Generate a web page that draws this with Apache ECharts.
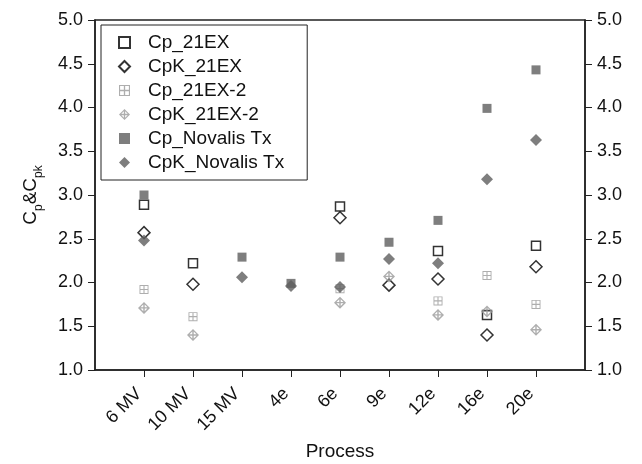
<!DOCTYPE html>
<html>
<head>
<meta charset="utf-8">
<script src="https://cdn.jsdelivr.net/npm/echarts@6/dist/echarts.min.js"></script>
<style>
  html, body { margin: 0; padding: 0; background: #fff; }
  #chart { width: 642px; height: 464px; }
</style>
</head>
<body>
<div id="chart"></div>
<script>
// process categories on the x axis
const processes = ['6 MV', '10 MV', '15 MV', '4e', '6e', '9e', '12e', '16e', '20e'];
const yTicks = [1.0, 1.5, 2.0, 2.5, 3.0, 3.5, 4.0, 4.5, 5.0];

// values (null = no point)
const cp21EX    = [2.89, 2.22, null, null, 2.87, null, 2.36, 1.63, 2.42];
const cpk21EX   = [2.57, 1.98, null, null, 2.74, 1.97, 2.04, 1.40, 2.18];
const cp21EX2   = [1.92, 1.61, null, null, 1.93, null, 1.79, 2.08, 1.75];
const cpk21EX2  = [1.71, 1.40, null, null, 1.77, 2.07, 1.63, 1.67, 1.46];
const cpNovalis  = [3.00, null, 2.29, 1.99, 2.29, 2.46, 2.71, 3.99, 4.43];
const cpkNovalis = [2.48, null, 2.06, 1.96, 1.95, 2.27, 2.22, 3.18, 3.63];

// square / diamond outlines with a cross inside (holes drawn with opposite winding)
const crossSquare = 'path://M0 0H10V10H0Z' +
  'M1 1V4.4H4.4V1Z M5.6 1V4.4H9V1Z M1 5.6V9H4.4V5.6Z M5.6 5.6V9H9V5.6Z';
const crossDiamond = 'path://M5 0L10 5L5 10L0 5Z' +
  'M5.6 2.1L5.6 4.4L7.9 4.4Z M4.4 2.1L2.1 4.4L4.4 4.4Z' +
  'M5.6 7.9L7.9 5.6L5.6 5.6Z M4.4 7.9L4.4 5.6L2.1 5.6Z';

const font = 'Liberation Sans, Arial, sans-serif';
const toPoints = arr => arr.map((v, i) => [i + 1, v]).filter(p => p[1] != null);

const chart = echarts.init(document.getElementById('chart'));

function makeSeries(name, arr, symbol, size, itemStyle) {
  return {
    name: name,
    type: 'scatter',
    data: toPoints(arr),
    symbol: symbol,
    symbolSize: size,
    symbolKeepAspect: true,
    itemStyle: itemStyle,
    emphasis: { disabled: true }
  };
}

const yAxisBase = {
  type: 'value',
  min: 1,
  max: 5,
  interval: 0.5,
  splitLine: { show: false },
  axisLine: { show: true, lineStyle: { color: '#222', width: 1.5 } },
  axisTick: { show: true, inside: false, length: 7, lineStyle: { color: '#222' } },
  axisLabel: {
    color: '#111', fontSize: 18, fontFamily: font, margin: 12,
    formatter: v => yTicks.includes(v) ? v.toFixed(1) : ''
  }
};

chart.setOption({
  backgroundColor: '#fff',
  animation: false,
  grid: {
    left: 95, right: 57, top: 20, bottom: 94,
    outerBoundsMode: 'none',
    show: true, borderColor: '#222', borderWidth: 1.5
  },
  legend: {
    orient: 'vertical',
    left: 101,
    top: 25,
    padding: [8, 23, 8, 17],
    itemWidth: 11,
    itemHeight: 11,
    itemGap: 5,
    borderColor: '#222',
    borderWidth: 1,
    textStyle: { color: '#111', fontSize: 19, fontFamily: font, padding: [0, 0, 0, 13] },
    data: ['Cp_21EX', 'CpK_21EX', 'Cp_21EX-2', 'CpK_21EX-2', 'Cp_Novalis Tx', 'CpK_Novalis Tx']
  },
  xAxis: {
    type: 'value',
    min: 0,
    max: 10,
    interval: 1,
    name: 'Process',
    nameLocation: 'middle',
    nameGap: 72,
    nameTextStyle: { color: '#111', fontSize: 19, fontFamily: font },
    splitLine: { show: false },
    axisLine: { lineStyle: { color: '#222', width: 1.5 } },
    axisTick: { length: 7, lineStyle: { color: '#222' } },
    axisLabel: {
      rotate: 45,
      color: '#111', fontSize: 18, fontFamily: font, margin: 16,
      padding: [0, 7, 0, 0],
      showMinLabel: false, showMaxLabel: false,
      formatter: v => processes[v - 1] || ''
    }
  },
  yAxis: [
    Object.assign({}, yAxisBase, {
      position: 'left',
      name: '{a|C}{s|p}{a|&C}{s|pk}',
      nameLocation: 'middle',
      nameRotate: 90,
      nameGap: 50,
      nameTextStyle: {
        rich: {
          a: { fontSize: 19, fontFamily: font, color: '#111', lineHeight: 28 },
          s: { fontSize: 12, fontFamily: font, color: '#111', lineHeight: 14, verticalAlign: 'bottom' }
        }
      }
    }),
    Object.assign({}, yAxisBase, { position: 'right' })
  ],
  series: [
    makeSeries('Cp_21EX', cp21EX, 'rect', 9,
      { color: '#fff', borderColor: '#000', borderWidth: 1.5 }),
    makeSeries('CpK_21EX', cpk21EX, 'diamond', 12,
      { color: '#fff', borderColor: '#000', borderWidth: 1.5 }),
    makeSeries('Cp_21EX-2', cp21EX2, crossSquare, 9, { color: '#9a9a9a' }),
    makeSeries('CpK_21EX-2', cpk21EX2, crossDiamond, 12, { color: '#9a9a9a' }),
    makeSeries('Cp_Novalis Tx', cpNovalis, 'rect', 9, { color: '#5e5e5e' }),
    makeSeries('CpK_Novalis Tx', cpkNovalis, 'diamond', 12, { color: '#5e5e5e' })
  ]
});
</script>
</body>
</html>
